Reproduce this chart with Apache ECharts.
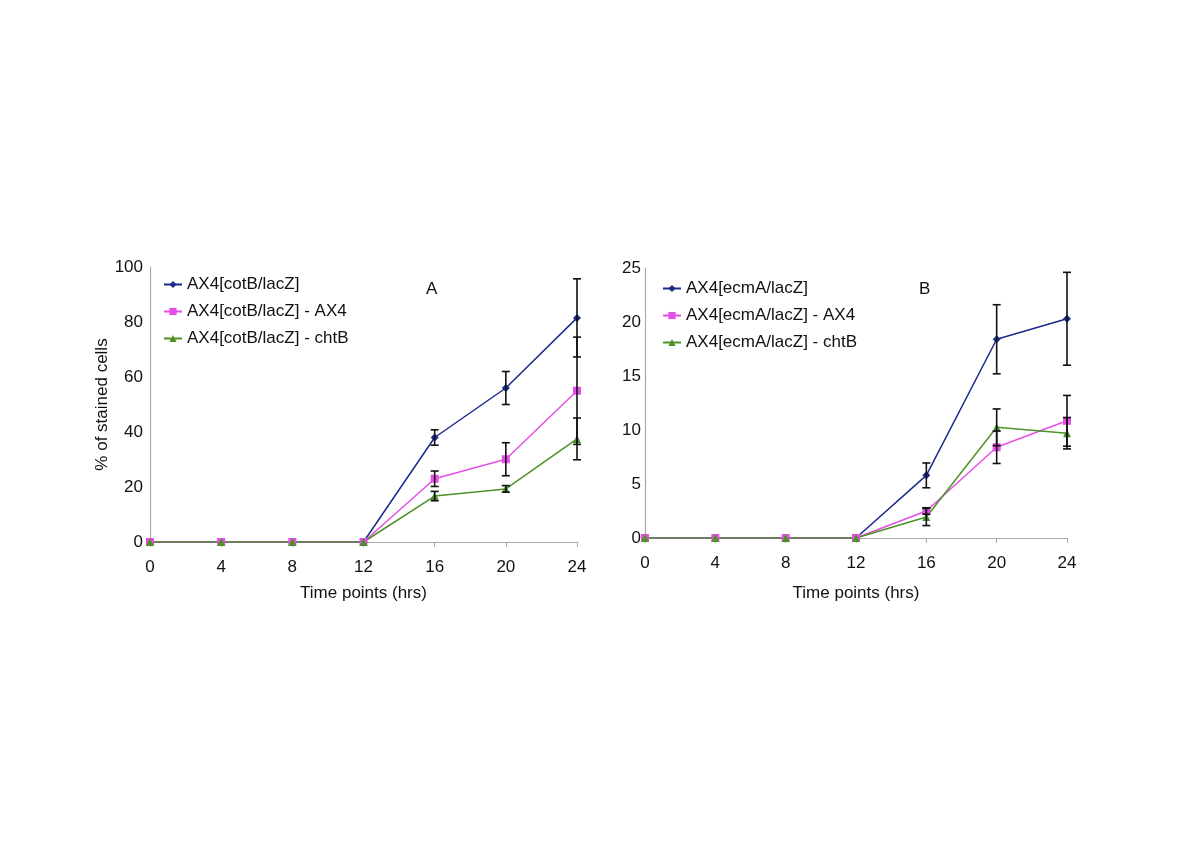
<!DOCTYPE html>
<html><head><meta charset="utf-8">
<script src="https://cdn.jsdelivr.net/npm/echarts@6/dist/echarts.min.js"></script>
<style>html,body{margin:0;padding:0;background:#fff}#c{width:1200px;height:848px}</style>
</head><body><div id="c"></div>
<script>
const hours = [0, 4, 8, 12, 16, 20, 24];
// Panel A (cotB)
const aNames = ['AX4[cotB/lacZ]', 'AX4[cotB/lacZ] - AX4', 'AX4[cotB/lacZ] - chtB'];
const aBlue  = [0, 0, 0, 0, 38.0, 56.0, 81.5];
const aPink  = [0, 0, 0, 0, 23.0, 30.1, 55.0];
const aGreen = [0, 0, 0, 0, 16.7, 19.3, 37.5];
const aBlueErr  = [0, 0, 0, 0, 2.8, 6.0, 14.2];
const aPinkErr  = [0, 0, 0, 0, 2.8, 6.0, 19.5];
const aGreenErr = [0, 0, 0, 0, 1.7, 1.2, 7.6];
const aTicks = [0, 20, 40, 60, 80, 100];
// Panel B (ecmA)
const bNames = ['AX4[ecmA/lacZ]', 'AX4[ecmA/lacZ] - AX4', 'AX4[ecmA/lacZ] - chtB'];
const bBlue  = [0, 0, 0, 0, 5.8, 18.4, 20.3];
const bPink  = [0, 0, 0, 0, 2.5, 8.4, 10.85];
const bGreen = [0, 0, 0, 0, 1.95, 10.25, 9.7];
const bBlueErr  = [0, 0, 0, 0, 1.15, 3.2, 4.3];
const bPinkErr  = [0, 0, 0, 0, 0.3, 1.5, 2.35];
const bGreenErr = [0, 0, 0, 0, 0.8, 1.7, 1.45];
const bTicks = [0, 5, 10, 15, 20, 25];

const COLORS = ['#1b2a8c', '#e64fe6', '#4d9128'];
const SYMS = ['diamond', 'rect', 'triangle'];
const SIZES = [8, 8, 8];
const FONT = 'Liberation Sans, Arial, sans-serif';

function pts(vals){ return hours.map((h,i)=>[h, vals[i]]); }
function errPts(vals, errs){ return hours.map((h,i)=>[h, vals[i]-errs[i], vals[i]+errs[i]]).filter((d,i)=>errs[i]>0); }

function lineSeries(name, vals, k, gi){
  return {type:'line', name, xAxisIndex:gi, yAxisIndex:gi, data:pts(vals),
    color:COLORS[k], symbol:SYMS[k], symbolSize:SIZES[k], showSymbol:true,
    lineStyle:{width:1.5, color:COLORS[k]}, itemStyle:{color:COLORS[k]}, z:3, animation:false};
}
function errSeries(vals, errs, gi){
  return {type:'custom', xAxisIndex:gi, yAxisIndex:gi, data:errPts(vals, errs), z:4, animation:false, silent:true,
    renderItem:function(params, api){
      const x = api.value(0);
      const lo = api.coord([x, api.value(1)]);
      const hi = api.coord([x, api.value(2)]);
      const w = 4;
      const st = {stroke:'#111', lineWidth:1.6};
      return {type:'group', children:[
        {type:'line', shape:{x1:lo[0], y1:lo[1], x2:hi[0], y2:hi[1]}, style:st},
        {type:'line', shape:{x1:lo[0]-w, y1:lo[1], x2:lo[0]+w, y2:lo[1]}, style:st},
        {type:'line', shape:{x1:hi[0]-w, y1:hi[1], x2:hi[0]+w, y2:hi[1]}, style:st}
      ]};
    }};
}

function xAxis(gi, gap){
  return {type:'value', gridIndex:gi, min:0, max:24, interval:4,
    name:'Time points (hrs)', nameLocation:'middle', nameGap:gap,
    nameTextStyle:{fontSize:17, color:'#111', fontFamily:FONT},
    axisLine:{lineStyle:{color:'#aaa', width:1.2}},
    axisTick:{show:true, length:5, lineStyle:{color:'#aaa'}},
    axisLabel:{fontSize:17, color:'#111', fontFamily:FONT, margin:17},
    splitLine:{show:false}};
}
function yAxis(gi, ticks, name, margin){
  return {type:'value', gridIndex:gi, min:ticks[0], max:ticks[ticks.length-1], interval:ticks[1]-ticks[0],
    name:name, nameLocation:'middle', nameGap:35,
    nameTextStyle:{fontSize:17, color:'#111', fontFamily:FONT},
    axisLine:{show:true, lineStyle:{color:'#aaa', width:1.2}},
    axisTick:{show:false},
    axisLabel:{fontSize:17, color:'#111', fontFamily:FONT, margin:margin},
    splitLine:{show:false}};
}

const chart = echarts.init(document.getElementById('c'), null, {renderer:'canvas'});
chart.setOption({
  backgroundColor:'#fff',
  animation:false,
  title:[
    {text:'A', left:421, top:276, textStyle:{fontSize:17, fontWeight:'normal', color:'#111', fontFamily:FONT}},
    {text:'B', left:914, top:276, textStyle:{fontSize:17, fontWeight:'normal', color:'#111', fontFamily:FONT}}
  ],
  legend:[
    {data:aNames, orient:'vertical', left:158, top:271, itemWidth:18, itemHeight:9, itemGap:10,
     textStyle:{fontSize:17, color:'#111', fontFamily:FONT, lineHeight:17}},
    {data:bNames, orient:'vertical', left:657, top:275, itemWidth:18, itemHeight:9, itemGap:10,
     textStyle:{fontSize:17, color:'#111', fontFamily:FONT, lineHeight:17}}
  ],
  grid:[
    {left:150, top:267, width:427, height:275},
    {left:645, top:268, width:422, height:270}
  ],
  xAxis:[xAxis(0, 43), xAxis(1, 47)],
  yAxis:[yAxis(0, aTicks, '% of stained cells', 7), yAxis(1, bTicks, '', 4)],
  series:[
    lineSeries(aNames[0], aBlue, 0, 0),
    lineSeries(aNames[1], aPink, 1, 0),
    lineSeries(aNames[2], aGreen, 2, 0),
    errSeries(aBlue, aBlueErr, 0),
    errSeries(aPink, aPinkErr, 0),
    errSeries(aGreen, aGreenErr, 0),
    lineSeries(bNames[0], bBlue, 0, 1),
    lineSeries(bNames[1], bPink, 1, 1),
    lineSeries(bNames[2], bGreen, 2, 1),
    errSeries(bBlue, bBlueErr, 1),
    errSeries(bPink, bPinkErr, 1),
    errSeries(bGreen, bGreenErr, 1)
  ]
});
</script></body></html>
